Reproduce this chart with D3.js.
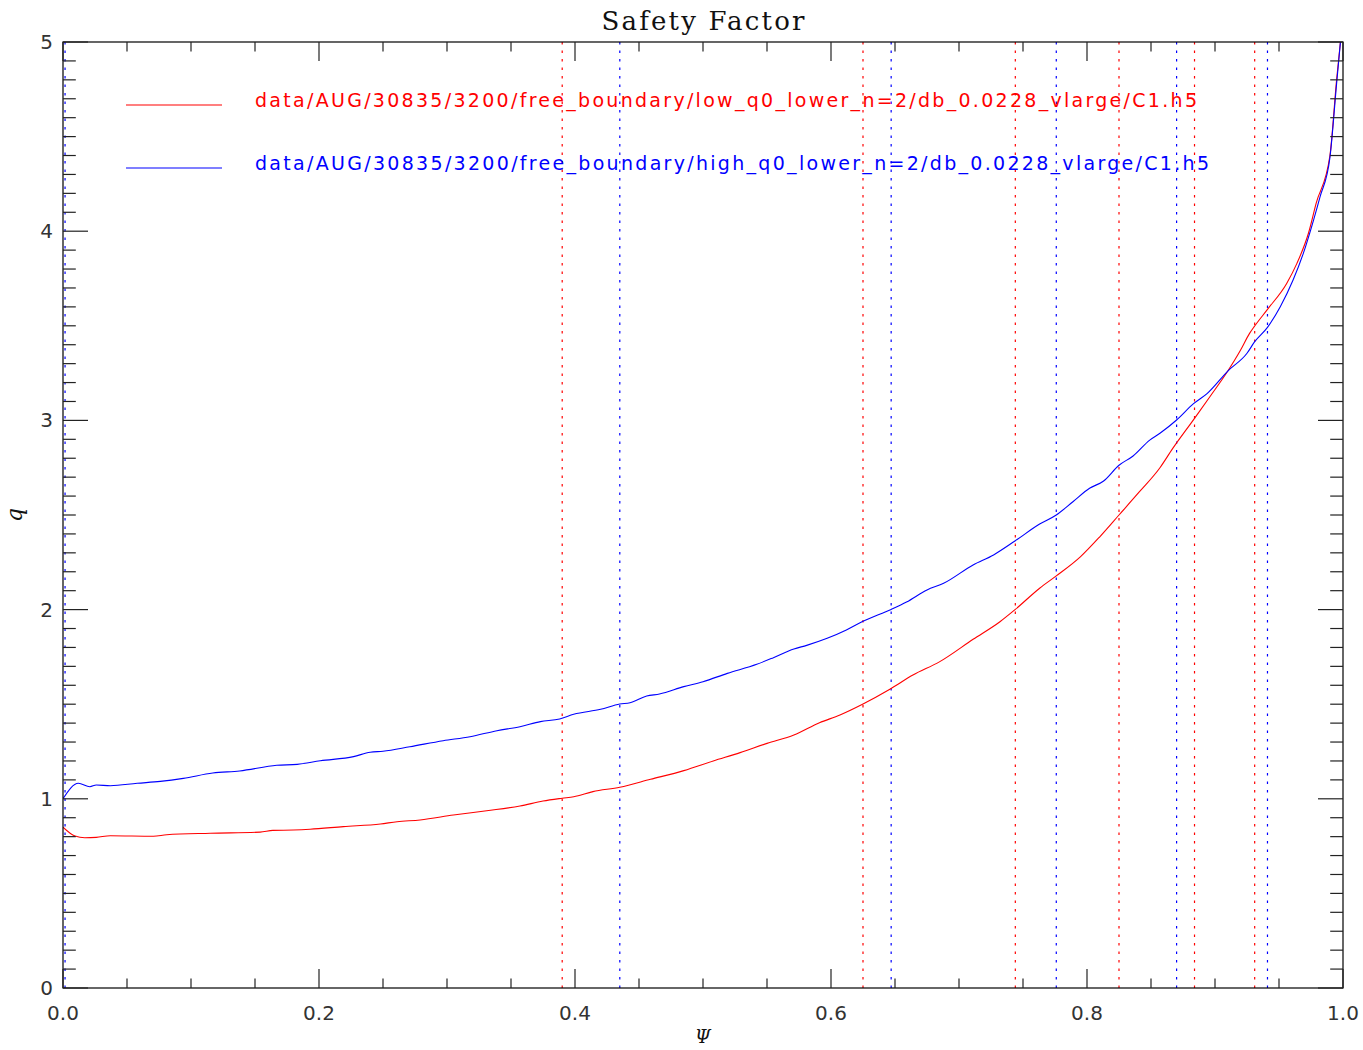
<!DOCTYPE html>
<html lang="en">
  <head>
    <meta charset="utf-8">
    <title>Safety Factor</title>
    <script src="https://d3js.org/d3.v7.min.js"></script>
    <style>
      body { margin: 0; background: #fff; }
      text { font-family: "DejaVu Sans", sans-serif; }
    </style>
  </head>
  <body>
    <div id="chart"></div>
    <script type="text/javascript">
      // q profiles
      const psiLow = [0, 0.0094, 0.017, 0.026, 0.037, 0.0706, 0.081, 0.115, 0.154, 0.164, 0.18, 0.193,
          0.219, 0.248, 0.261, 0.279, 0.305, 0.331, 0.357, 0.375, 0.390, 0.399, 0.414, 0.435, 0.459,
          0.485, 0.508, 0.529, 0.550, 0.571, 0.591, 0.607, 0.625, 0.646, 0.664, 0.685, 0.711, 0.732,
          0.744, 0.763, 0.776, 0.795, 0.810, 0.825, 0.841, 0.857, 0.867, 0.884, 0.896, 0.910, 0.920,
          0.927, 0.931, 0.941, 0.956, 0.964, 0.973, 0.979, 0.9898, 0.995, 0.998];
      const qLow = [0.85, 0.803, 0.794, 0.796, 0.805, 0.802, 0.81, 0.818, 0.824, 0.833, 0.835, 0.839,
          0.853, 0.867, 0.879, 0.888, 0.914, 0.937, 0.962, 0.988, 1.003, 1.011, 1.038, 1.061, 1.103,
          1.149, 1.200, 1.244, 1.293, 1.337, 1.402, 1.443, 1.501, 1.579, 1.654, 1.725, 1.843, 1.936,
          2.001, 2.113, 2.178, 2.280, 2.385, 2.500, 2.623, 2.750, 2.852, 3.011, 3.125, 3.261, 3.372,
          3.460, 3.499, 3.587, 3.724, 3.830, 3.989, 4.147, 4.40, 4.80, 5.0];

      const psiHigh = [0, 0.012, 0.021, 0.026, 0.037, 0.058, 0.076, 0.094, 0.117, 0.138, 0.167, 0.183,
          0.201, 0.227, 0.240, 0.250, 0.271, 0.297, 0.318, 0.339, 0.357, 0.373, 0.388, 0.399, 0.420,
          0.435, 0.443, 0.456, 0.466, 0.485, 0.500, 0.519, 0.542, 0.555, 0.571, 0.581, 0.597, 0.612,
          0.625, 0.647, 0.659, 0.675, 0.688, 0.711, 0.727, 0.744, 0.763, 0.776, 0.789, 0.802, 0.813,
          0.825, 0.836, 0.849, 0.857, 0.870, 0.883, 0.894, 0.910, 0.925, 0.931, 0.941, 0.951, 0.961,
          0.969, 0.977, 0.982, 0.9898, 0.995, 0.998];
      const qHigh = [1.0, 1.082, 1.064, 1.073, 1.069, 1.082, 1.092, 1.108, 1.136, 1.147, 1.177, 1.182,
          1.201, 1.223, 1.246, 1.251, 1.275, 1.307, 1.328, 1.360, 1.381, 1.408, 1.422, 1.447, 1.473,
          1.501, 1.508, 1.543, 1.554, 1.593, 1.619, 1.663, 1.711, 1.746, 1.792, 1.811, 1.848, 1.892,
          1.938, 2.001, 2.040, 2.104, 2.139, 2.236, 2.289, 2.364, 2.452, 2.500, 2.570, 2.641, 2.680,
          2.763, 2.812, 2.896, 2.932, 3.002, 3.087, 3.143, 3.261, 3.355, 3.416, 3.492, 3.601, 3.742,
          3.883, 4.059, 4.18, 4.39, 4.78, 5.0];

      // rational surfaces (dotted verticals)
      const surfLow = [0.390, 0.625, 0.744, 0.825, 0.884, 0.931];
      const surfHigh = [0.0016, 0.435, 0.647, 0.776, 0.870, 0.941];

      const files = ["data/AUG/30835/3200/free_boundary/low_q0_lower_n=2/db_0.0228_vlarge/C1.h5",
                     "data/AUG/30835/3200/free_boundary/high_q0_lower_n=2/db_0.0228_vlarge/C1.h5"];
      const colors = ["#ff0000", "#0000ff"];

      const xMajor = [0, 0.2, 0.4, 0.6, 0.8, 1.0];
      const yMajor = [0, 1, 2, 3, 4, 5];

      function safetyFactor() {
          let svgWidth = 1363, svgHeight = 1050;
          let margin = { top: 42, right: 20, bottom: 62, left: 63 },
              width = 1280,
              height = svgHeight - margin.top - margin.bottom;

          let svg = d3.select("#chart")
              .append("svg")
              .attr("width", svgWidth)
              .attr("height", svgHeight);

          let g = svg.append("g")
              .attr("transform", "translate(" + margin.left + "," + margin.top + ")");

          let x = d3.scaleLinear().domain([0, 1]).range([0, width]);
          let y = d3.scaleLinear().domain([0, 5]).range([height, 0]);

          g.append("defs").append("clipPath").attr("id", "plotClip")
              .append("rect").attr("width", width).attr("height", height);

          // rational surfaces
          const surfs = [surfLow, surfHigh];
          surfs.forEach((s, i) => {
              g.selectAll(".surf" + i)
                  .data(s)
                  .join("line")
                  .attr("x1", d => x(d)).attr("x2", d => x(d))
                  .attr("y1", 0).attr("y2", height)
                  .attr("stroke", colors[i])
                  .attr("stroke-width", 1.2)
                  .attr("stroke-dasharray", "2.5,6");
          });

          // profiles
          const series = [d3.zip(psiLow, qLow), d3.zip(psiHigh, qHigh)];
          let line = d3.line().x(d => x(d[0])).y(d => y(d[1])).curve(d3.curveMonotoneX);
          series.forEach((s, i) => {
              g.append("path")
                  .datum(s)
                  .attr("clip-path", "url(#plotClip)")
                  .attr("fill", "none")
                  .attr("stroke", colors[i])
                  .attr("stroke-width", 1.1)
                  .attr("d", line);
          });

          // frame
          g.append("rect")
              .attr("width", width).attr("height", height)
              .attr("fill", "none").attr("stroke", "#000").attr("stroke-width", 1.2);

          // ticks (IDL style, all four sides, inward)
          let xMinor = d3.range(0, 1.0001, 0.05).filter(v => !xMajor.some(m => Math.abs(m - v) < 1e-6));
          let yMinor = d3.range(0, 5.0001, 0.1).filter(v => !yMajor.some(m => Math.abs(m - v) < 1e-6));
          let tk = g.append("g").attr("stroke", "#222").attr("stroke-width", 1.2);
          const xt = xMajor.map(v => [v, 19]).concat(xMinor.map(v => [v, 9.5]));
          tk.selectAll(".xb").data(xt).join("line")
              .attr("x1", d => x(d[0])).attr("x2", d => x(d[0]))
              .attr("y1", height).attr("y2", d => height - d[1]);
          tk.selectAll(".xt").data(xt).join("line")
              .attr("x1", d => x(d[0])).attr("x2", d => x(d[0]))
              .attr("y1", 0).attr("y2", d => d[1]);
          const yt = yMajor.map(v => [v, 25]).concat(yMinor.map(v => [v, 12.8]));
          tk.selectAll(".yl").data(yt).join("line")
              .attr("y1", d => y(d[0])).attr("y2", d => y(d[0]))
              .attr("x1", 0).attr("x2", d => d[1]);
          tk.selectAll(".yr").data(yt).join("line")
              .attr("y1", d => y(d[0])).attr("y2", d => y(d[0]))
              .attr("x1", width).attr("x2", d => width - d[1]);

          // tick labels
          g.selectAll(".xlab").data(xMajor).join("text")
              .attr("x", d => x(d)).attr("y", height + 32)
              .attr("text-anchor", "middle")
              .attr("font-size", 20).attr("fill", "#333")
              .text(d => d.toFixed(1));
          g.selectAll(".ylab").data(yMajor).join("text")
              .attr("x", -10).attr("y", d => y(d) + 7)
              .attr("text-anchor", "end")
              .attr("font-size", 20).attr("fill", "#333")
              .text(d => d);

          // legend
          files.forEach((f, i) => {
              let ly = 63 + i * 63;
              g.append("line")
                  .attr("x1", 63).attr("x2", 159)
                  .attr("y1", ly).attr("y2", ly)
                  .attr("stroke", colors[i]).attr("stroke-width", 1.1);
              g.append("text")
                  .attr("x", 192).attr("y", ly + 2)
                  .attr("font-size", 19)
                  .attr("fill", colors[i])
                  .attr("textLength", i === 0 ? 942 : 954)
                  .attr("lengthAdjust", "spacing")
                  .text(f);
          });

          // titles
          svg.append("text")
              .attr("x", margin.left + width / 2).attr("y", 30)
              .attr("text-anchor", "middle")
              .attr("font-size", 26)
              .attr("textLength", 203).attr("lengthAdjust", "spacing")
              .style("font-family", "'DejaVu Serif', serif")
              .attr("fill", "#111")
              .text("Safety Factor");
          svg.append("text")
              .attr("x", margin.left + width / 2).attr("y", 1043)
              .attr("text-anchor", "middle")
              .attr("font-size", 18)
              .style("font-style", "italic")
              .style("font-family", "'DejaVu Serif', serif")
              .attr("fill", "#111")
              .text("Ψ");
          svg.append("text")
              .attr("transform", "translate(22," + (margin.top + height / 2) + ") rotate(-90)")
              .attr("text-anchor", "middle")
              .attr("font-size", 22)
              .style("font-style", "italic")
              .style("font-family", "'DejaVu Serif', serif")
              .attr("fill", "#111")
              .text("q");
      }

      safetyFactor();
    </script>
  </body>
</html>
